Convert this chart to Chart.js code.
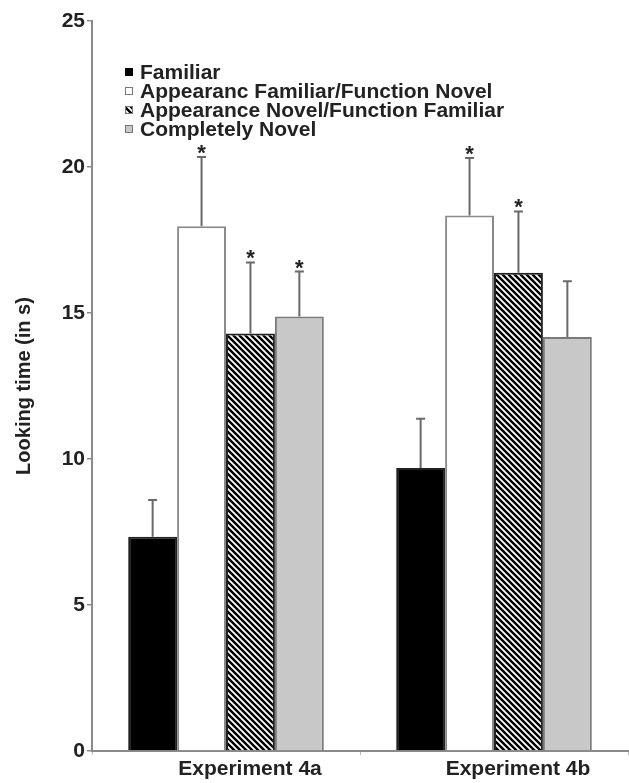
<!DOCTYPE html>
<html>
<head>
<meta charset="utf-8">
<script src="https://cdn.jsdelivr.net/npm/chart.js@4.4.1/dist/chart.umd.min.js"></script>
<style>
  html, body { margin: 0; padding: 0; background: #fff; }
  #wrap { width: 629px; height: 783px; }
</style>
</head>
<body>
<div id="wrap"><canvas id="lookChart"></canvas></div>
<script>
const categories = ['Experiment 4a', 'Experiment 4b'];
const seriesNames = [
  'Familiar',
  'Appearanc Familiar/Function Novel',
  'Appearance Novel/Function Familiar',
  'Completely Novel'
];
const familiar = [7.34, 9.69];
const appFamiliarFuncNovel = [17.97, 18.34];
const appNovelFuncFamiliar = [14.30, 16.38];
const completelyNovel = [14.88, 14.18];

// standard errors (upper whiskers only)
const familiarErr = [1.26, 1.69];
const appFamiliarFuncNovelErr = [2.37, 1.97];
const appNovelFuncFamiliarErr = [2.43, 2.10];
const completelyNovelErr = [1.54, 1.91];

// significance stars
const familiarSig = [false, false];
const appFamiliarFuncNovelSig = [true, true];
const appNovelFuncFamiliarSig = [true, true];
const completelyNovelSig = [true, false];

const yTicks = [0, 5, 10, 15, 20, 25];

const axisGray = '#8a8a8a';
const textColor = '#222';
const fontFam = '"Liberation Sans", Arial, Helvetica, sans-serif';

// diagonal hatch
function makeHatch() {
    const s = 6;
    const c = document.createElement('canvas');
    c.width = s; c.height = s;
    const g = c.getContext('2d');
    g.fillStyle = '#fff';
    g.fillRect(0, 0, s, s);
    g.strokeStyle = '#000';
    g.lineWidth = 2.4;
    g.beginPath();
    g.moveTo(-1, -1); g.lineTo(s + 1, s + 1);
    g.moveTo(-1, s - 1); g.lineTo(1, s + 1);
    g.moveTo(s - 1, -1); g.lineTo(s + 1, 1);
    g.stroke();
    return g.createPattern(c, 'repeat');
}
const hatch = makeHatch();

const values = [familiar, appFamiliarFuncNovel, appNovelFuncFamiliar, completelyNovel];
const errors = [familiarErr, appFamiliarFuncNovelErr, appNovelFuncFamiliarErr, completelyNovelErr];
const sigs = [familiarSig, appFamiliarFuncNovelSig, appNovelFuncFamiliarSig, completelyNovelSig];
const fills = ['#000000', '#ffffff', hatch, '#c8c8c8'];
const borders = ['#222222', '#8a8a8a', '#222222', '#7a7a7a'];

const errorBars = {
    id: 'errorBars',
    afterDatasetsDraw(chart) {
        const ctx = chart.ctx;
        const y = chart.scales.y;
        ctx.save();
        chart.data.datasets.forEach((ds, i) => {
            const meta = chart.getDatasetMeta(i);
            meta.data.forEach((bar, j) => {
                const top = y.getPixelForValue(ds.data[j] + errors[i][j]);
                ctx.strokeStyle = '#6a6a6a';
                ctx.lineWidth = 2;
                ctx.beginPath();
                ctx.moveTo(bar.x, bar.y);
                ctx.lineTo(bar.x, top);
                ctx.moveTo(bar.x - 4.5, top);
                ctx.lineTo(bar.x + 4.5, top);
                ctx.stroke();
                if (sigs[i][j]) {
                    ctx.fillStyle = textColor;
                    ctx.font = 'bold 22px ' + fontFam;
                    ctx.textAlign = 'center';
                    ctx.textBaseline = 'alphabetic';
                    ctx.fillText('*', bar.x, top + 3);
                }
            });
        });
        ctx.restore();
    }
};

const boxLegend = {
    id: 'boxLegend',
    afterDraw(chart) {
        const ctx = chart.ctx;
        ctx.save();
        seriesNames.forEach((name, i) => {
            const cy = 72 + i * 19;
            ctx.fillStyle = fills[i];
            ctx.fillRect(125, cy - 4, 8, 8);
            ctx.strokeStyle = i === 0 ? '#000' : '#777';
            ctx.lineWidth = 1;
            ctx.strokeRect(125.5, cy - 3.5, 7, 7);
            ctx.fillStyle = textColor;
            ctx.font = 'bold 21px ' + fontFam;
            ctx.textAlign = 'left';
            ctx.textBaseline = 'middle';
            ctx.fillText(name, 140, cy + 1);
        });
        ctx.restore();
    }
};

const ctx = document.getElementById('lookChart').getContext('2d');
const chart = new Chart(ctx, {
    type: 'bar',
    data: {
        labels: categories,
        datasets: seriesNames.map((name, i) => ({
            label: name,
            data: values[i],
            backgroundColor: fills[i],
            borderColor: borders[i],
            borderWidth: 2,
            borderSkipped: 'bottom',
            barPercentage: 1,
            categoryPercentage: 0.73
        }))
    },
    options: {
        responsive: true,
        maintainAspectRatio: false,
        animation: false,
        layout: { padding: { top: 21, right: 1, left: 0, bottom: 0 } },
        plugins: {
            legend: { display: false },
            tooltip: { enabled: false }
        },
        scales: {
            x: {
                afterFit(scale) { scale.height = 32; },
                border: { display: true, color: axisGray, width: 2 },
                grid: { display: true, drawOnChartArea: false, offset: true, tickLength: 4, color: '#bbb' },
                ticks: {
                    color: textColor,
                    font: { family: fontFam, size: 21, weight: 'bold' },
                    labelOffset: 24,
                    padding: 2,
                    maxRotation: 0
                }
            },
            y: {
                min: 0,
                max: 25,
                afterFit(scale) { scale.width = 92; },
                afterBuildTicks(scale) { scale.ticks = yTicks.map(v => ({ value: v })); },
                border: { display: true, color: axisGray, width: 2 },
                grid: { display: true, drawOnChartArea: false, tickLength: 5, color: axisGray, lineWidth: 1.5 },
                ticks: {
                    color: textColor,
                    font: { family: fontFam, size: 21, weight: 'bold' },
                    padding: 2
                },
                title: {
                    display: true,
                    text: 'Looking time (in s)',
                    color: textColor,
                    font: { family: fontFam, size: 20, weight: 'bold' },
                    padding: { top: 12, bottom: 0 }
                }
            }
        }
    },
    plugins: [errorBars, boxLegend]
});
</script>
</body>
</html>
